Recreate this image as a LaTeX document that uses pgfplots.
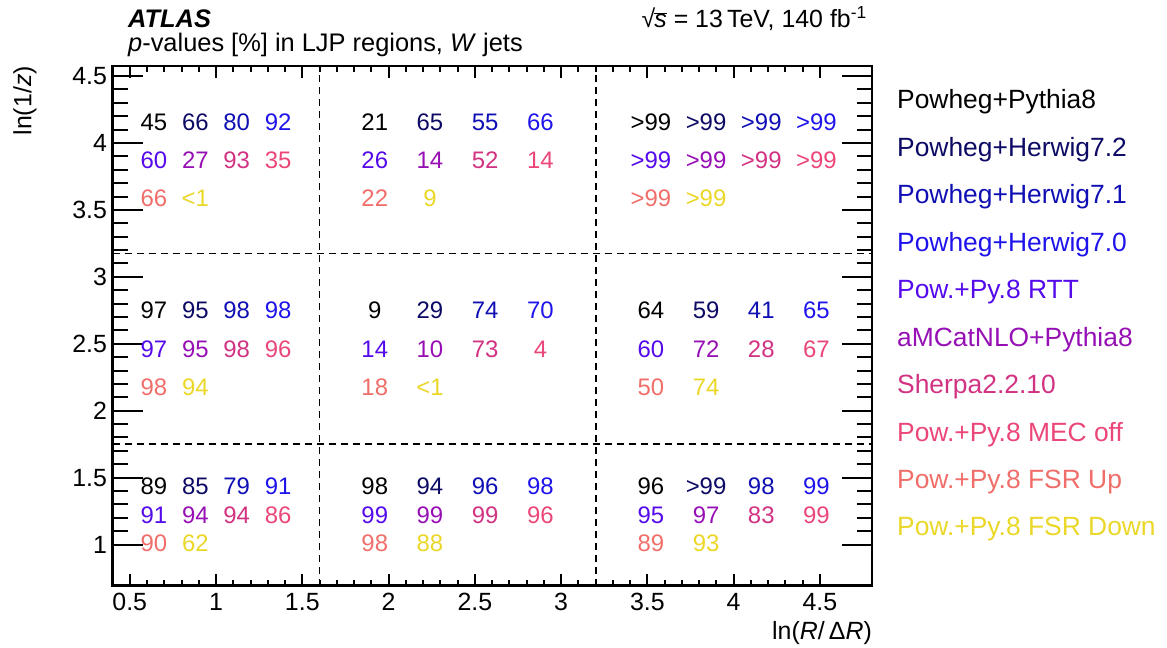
\documentclass[border=0pt]{standalone}
\usepackage{fontspec}
\setmainfont{Liberation Sans}
\usepackage{pgfplots}
\pgfplotsset{compat=1.18}
\definecolor{c0}{RGB}{0,0,0}
\definecolor{c1}{RGB}{12,10,100}
\definecolor{c2}{RGB}{15,15,180}
\definecolor{c3}{RGB}{30,20,235}
\definecolor{c4}{RGB}{85,10,235}
\definecolor{c5}{RGB}{150,15,180}
\definecolor{c6}{RGB}{210,50,130}
\definecolor{c7}{RGB}{235,70,120}
\definecolor{c8}{RGB}{240,110,105}
\definecolor{c9}{RGB}{235,215,40}
\pgfplotsset{
  base/.style={
    at={(112.5bp,62.3bp)}, anchor=south west,
    scale only axis, width=759.2bp, height=519.7bp,
    xmin=0.4, xmax=4.8, ymin=0.693, ymax=4.575,
    axis line style={line width=2.4bp},
    every tick/.style={line width=2bp, black},
    tick align=inside,
    /pgf/number format/assume math mode=true,
    tick label style={font=\fontsize{25}{30}\selectfont},
  },
  cell/.style={draw=none, mark=none, #1, nodes near coords, point meta=explicit symbolic,
    nodes near coords align={center},
    every node near coord/.style={anchor=center, text=#1, font=\fontsize{24}{28}\selectfont, inner sep=0pt}},
  sep/.style={black, line width=1.8bp, dash pattern=on 7bp off 5bp},
}
\begin{document}
\begin{tikzpicture}
\useasboundingbox (0bp,0bp) rectangle (1167bp,648bp);
% y ticks axis
\begin{axis}[base,
  xtick=\empty, minor xtick={},
  ytick={1,1.5,2,2.5,3,3.5,4,4.5}, minor y tick num=4,
  ytick pos=both, yticklabel pos=left,
  major tick length=30bp, minor tick length=15bp,
  yticklabel style={xshift=-2bp},
]
\end{axis}
% x ticks axis + content
\begin{axis}[base,
  ytick=\empty, minor ytick={},
  xtick={0.5,1,1.5,2,2.5,3,3.5,4,4.5}, minor x tick num=4,
  xtick pos=both, xticklabel pos=lower,
  major tick length=12bp, minor tick length=6bp,
  xticklabel style={yshift=-4bp},
  clip=false,
]
\addplot[sep] coordinates {(1.6,0.693) (1.6,4.575)};
\addplot[sep] coordinates {(3.2,0.693) (3.2,4.575)};
\addplot[sep] coordinates {(0.4,1.75) (4.8,1.75)};
\addplot[sep] coordinates {(0.4,3.174) (4.8,3.174)};
% Powheg+Pythia8
\addplot[cell=c0] table[meta=l] {
x y l
0.64 4.154 45
1.92 4.154 21
3.52 4.154 >99
0.64 2.747 97
1.92 2.747 9
3.52 2.747 64
0.64 1.433 89
1.92 1.433 98
3.52 1.433 96
};
% Powheg+Herwig7.2
\addplot[cell=c1] table[meta=l] {
x y l
0.88 4.154 66
2.24 4.154 65
3.84 4.154 >99
0.88 2.747 95
2.24 2.747 29
3.84 2.747 59
0.88 1.433 85
2.24 1.433 94
3.84 1.433 >99
};
% Powheg+Herwig7.1
\addplot[cell=c2] table[meta=l] {
x y l
1.12 4.154 80
2.56 4.154 55
4.16 4.154 >99
1.12 2.747 98
2.56 2.747 74
4.16 2.747 41
1.12 1.433 79
2.56 1.433 96
4.16 1.433 98
};
% Powheg+Herwig7.0
\addplot[cell=c3] table[meta=l] {
x y l
1.36 4.154 92
2.88 4.154 66
4.48 4.154 >99
1.36 2.747 98
2.88 2.747 70
4.48 2.747 65
1.36 1.433 91
2.88 1.433 98
4.48 1.433 99
};
% Pow.+Py.8 RTT
\addplot[cell=c4] table[meta=l] {
x y l
0.64 3.873 60
1.92 3.873 26
3.52 3.873 >99
0.64 2.462 97
1.92 2.462 14
3.52 2.462 60
0.64 1.222 91
1.92 1.222 99
3.52 1.222 95
};
% aMCatNLO+Pythia8
\addplot[cell=c5] table[meta=l] {
x y l
0.88 3.873 27
2.24 3.873 14
3.84 3.873 >99
0.88 2.462 95
2.24 2.462 10
3.84 2.462 72
0.88 1.222 94
2.24 1.222 99
3.84 1.222 97
};
% Sherpa2.2.10
\addplot[cell=c6] table[meta=l] {
x y l
1.12 3.873 93
2.56 3.873 52
4.16 3.873 >99
1.12 2.462 98
2.56 2.462 73
4.16 2.462 28
1.12 1.222 94
2.56 1.222 99
4.16 1.222 83
};
% Pow.+Py.8 MEC off
\addplot[cell=c7] table[meta=l] {
x y l
1.36 3.873 35
2.88 3.873 14
4.48 3.873 >99
1.36 2.462 96
2.88 2.462 4
4.48 2.462 67
1.36 1.222 86
2.88 1.222 96
4.48 1.222 99
};
% Pow.+Py.8 FSR Up
\addplot[cell=c8] table[meta=l] {
x y l
0.64 3.590 66
1.92 3.590 22
3.52 3.590 >99
0.64 2.177 98
1.92 2.177 18
3.52 2.177 50
0.64 1.010 90
1.92 1.010 98
3.52 1.010 89
};
% Pow.+Py.8 FSR Down
\addplot[cell=c9] table[meta=l] {
x y l
0.88 3.590 <1
2.24 3.590 9
3.84 3.590 >99
0.88 2.177 94
2.24 2.177 <1
3.84 2.177 74
0.88 1.010 62
2.24 1.010 88
3.84 1.010 93
};
\end{axis}
% labels
\node[anchor=east, rotate=90, font=\fontsize{25}{30}\selectfont, inner sep=0pt] at (25bp,582bp) {ln(1/\textit{z})};
\node[anchor=east, font=\fontsize{25}{30}\selectfont, inner sep=0pt] at (872bp,15bp) {ln(\textit{R}/\,Δ\textit{R})};
\node[anchor=base west, font=\fontsize{25.5}{30}\selectfont\bfseries\itshape, inner sep=0pt] at (128bp,620bp) {ATLAS};
\node[anchor=base west, font=\fontsize{25.5}{30}\selectfont, inner sep=0pt] at (128bp,596bp) {\textit{p}-values [\%] in LJP regions, \textit{W} jets};
\node[anchor=base east, font=\fontsize{25}{30}\selectfont, inner sep=0pt] at (867bp,620bp) {√\kern-1bp$\overline{\mbox{\textit{s}}}$ = 13\,TeV, 140 fb\textsuperscript{-1}};
% legend
\begin{scope}[every node/.style={anchor=west, font=\fontsize{26.5}{30}\selectfont, inner sep=0pt}]
\node[text=c0] at (897bp,546bp) {Powheg+Pythia8};
\node[text=c1] at (897bp,498.5bp) {Powheg+Herwig7.2};
\node[text=c2] at (897bp,451bp) {Powheg+Herwig7.1};
\node[text=c3] at (897bp,403.5bp) {Powheg+Herwig7.0};
\node[text=c4] at (897bp,356bp) {Pow.+Py.8 RTT};
\node[text=c5] at (897bp,308.5bp) {aMCatNLO+Pythia8};
\node[text=c6] at (897bp,261bp) {Sherpa2.2.10};
\node[text=c7] at (897bp,213.5bp) {Pow.+Py.8 MEC off};
\node[text=c8] at (897bp,166bp) {Pow.+Py.8 FSR Up};
\node[text=c9] at (897bp,118.5bp) {Pow.+Py.8 FSR Down};
\end{scope}
\end{tikzpicture}
\end{document}
